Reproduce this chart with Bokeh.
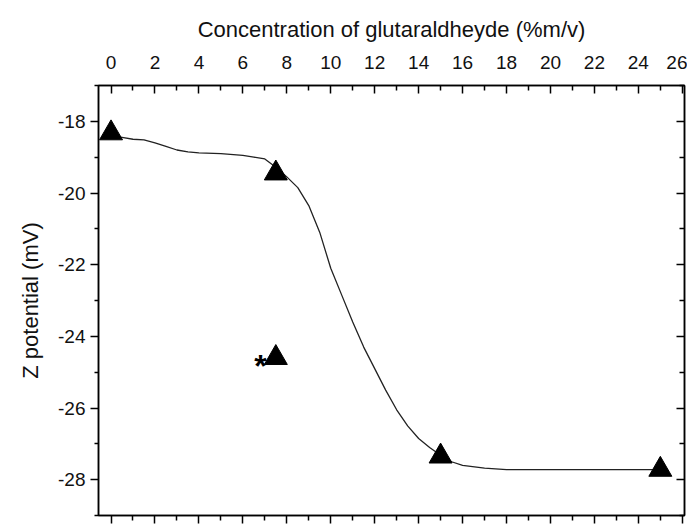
from bokeh.plotting import figure
from bokeh.models import LinearAxis, FixedTicker
from bokeh.core.properties import value
from bokeh.embed import file_html
from bokeh.resources import INLINE

# ---- data ----
curve_x = [0, 0.5, 1, 1.5, 2, 2.5, 3, 3.5, 4, 5, 6, 6.5, 7, 7.5, 8, 8.5, 9, 9.5,
           10, 10.5, 11, 11.5, 12, 12.5, 13, 13.5, 14, 14.5, 15, 15.5, 16, 17, 18, 20, 22, 25]
curve_y = [-18.40, -18.45, -18.50, -18.52, -18.60, -18.70, -18.80, -18.85, -18.88, -18.90,
           -18.95, -19.00, -19.05, -19.28, -19.55, -19.85, -20.35, -21.10, -22.10, -22.85,
           -23.60, -24.30, -24.90, -25.50, -26.05, -26.50, -26.85, -27.10, -27.32, -27.50,
           -27.60, -27.68, -27.72, -27.72, -27.72, -27.72]
point_x = [0, 7.5, 15, 25]
point_y = [-18.33, -19.45, -27.35, -27.72]
star_x = [7.5]
star_y = [-24.6]
star_text = "*"

x_major = [0, 2, 4, 6, 8, 10, 12, 14, 16, 18, 20, 22, 24, 26]
x_minor = [1, 3, 5, 7, 9, 11, 13, 15, 17, 19, 21, 23, 25]
y_major = [-28, -26, -24, -22, -20, -18]
y_labels = ["-28", "-26", "-24", "-22", "-20", "-18"]
y_minor = [-29, -27, -25, -23, -21, -19, -17]

x_title = "Concentration of glutaraldheyde (%m/v)"
y_title = "Z potential (mV)"

FONT = "Liberation Sans"
INK = "#111111"

p = figure(width=687, height=527, output_backend="svg", toolbar_location=None,
           x_range=(-0.57, 26.1), y_range=(-29, -17), x_axis_location="above",
           min_border_left=98, min_border_right=3, min_border_top=85, min_border_bottom=12)
p.background_fill_color = "white"
p.border_fill_color = "white"
p.grid.visible = False
p.outline_line_color = "black"
p.outline_line_width = 1.5

xt = FixedTicker(ticks=x_major, minor_ticks=x_minor)
yt = FixedTicker(ticks=y_major, minor_ticks=y_minor)

top = p.xaxis[0]
top.ticker = xt
top.axis_label = x_title
top.axis_label_text_font = FONT
top.axis_label_text_font_size = "22px"
top.axis_label_text_font_style = "normal"
top.axis_label_text_color = INK
top.axis_label_standoff = 11
top.major_label_text_font = FONT
top.major_label_text_font_size = "19px"
top.major_label_text_color = INK
top.major_label_standoff = 17
top.major_tick_in = 8
top.major_tick_out = 0
top.minor_tick_in = 5
top.minor_tick_out = 0
top.axis_line_width = 1.5
top.major_tick_line_width = 1.5
top.minor_tick_line_width = 1.5

left = p.yaxis[0]
left.ticker = yt
left.major_label_overrides = dict(zip(y_major, y_labels))
left.axis_label = y_title
left.axis_label_text_font = FONT
left.axis_label_text_font_size = "22px"
left.axis_label_text_font_style = "normal"
left.axis_label_text_color = INK
left.axis_label_standoff = 12
left.major_label_text_font = FONT
left.major_label_text_font_size = "19px"
left.major_label_text_color = INK
left.major_label_standoff = 5
left.major_tick_in = 0
left.major_tick_out = 8
left.minor_tick_in = 0
left.minor_tick_out = 4
left.axis_line_width = 1.5
left.major_tick_line_width = 1.5
left.minor_tick_line_width = 1.5

bottom = LinearAxis(ticker=xt, major_label_text_font_size="0px", major_label_text_color=None,
                    major_tick_in=0, major_tick_out=8, minor_tick_in=0, minor_tick_out=5,
                    axis_line_width=1.5, major_tick_line_width=1.5, minor_tick_line_width=1.5,
                    major_label_standoff=0)
p.add_layout(bottom, "below")
right = LinearAxis(ticker=yt, major_label_text_font_size="0px", major_label_text_color=None,
                   major_tick_in=8, major_tick_out=0, minor_tick_in=5, minor_tick_out=0,
                   axis_line_width=1.5, major_tick_line_width=1.5, minor_tick_line_width=1.5,
                   major_label_standoff=0)
p.add_layout(right, "right")

p.line(curve_x, curve_y, line_color="#222222", line_width=1.3)
p.scatter(point_x, point_y, marker="triangle", size=23, fill_color="black", line_color="black")
p.scatter(star_x, star_y, marker="triangle", size=23, fill_color="black", line_color="black")
p.text(star_x, star_y, text=[star_text], text_font=value(FONT), text_font_size="32px",
       text_font_style="bold", text_align="right", text_baseline="middle",
       x_offset=-9, y_offset=8, text_color="black")

open("out.html", "w").write(file_html(p, INLINE))
